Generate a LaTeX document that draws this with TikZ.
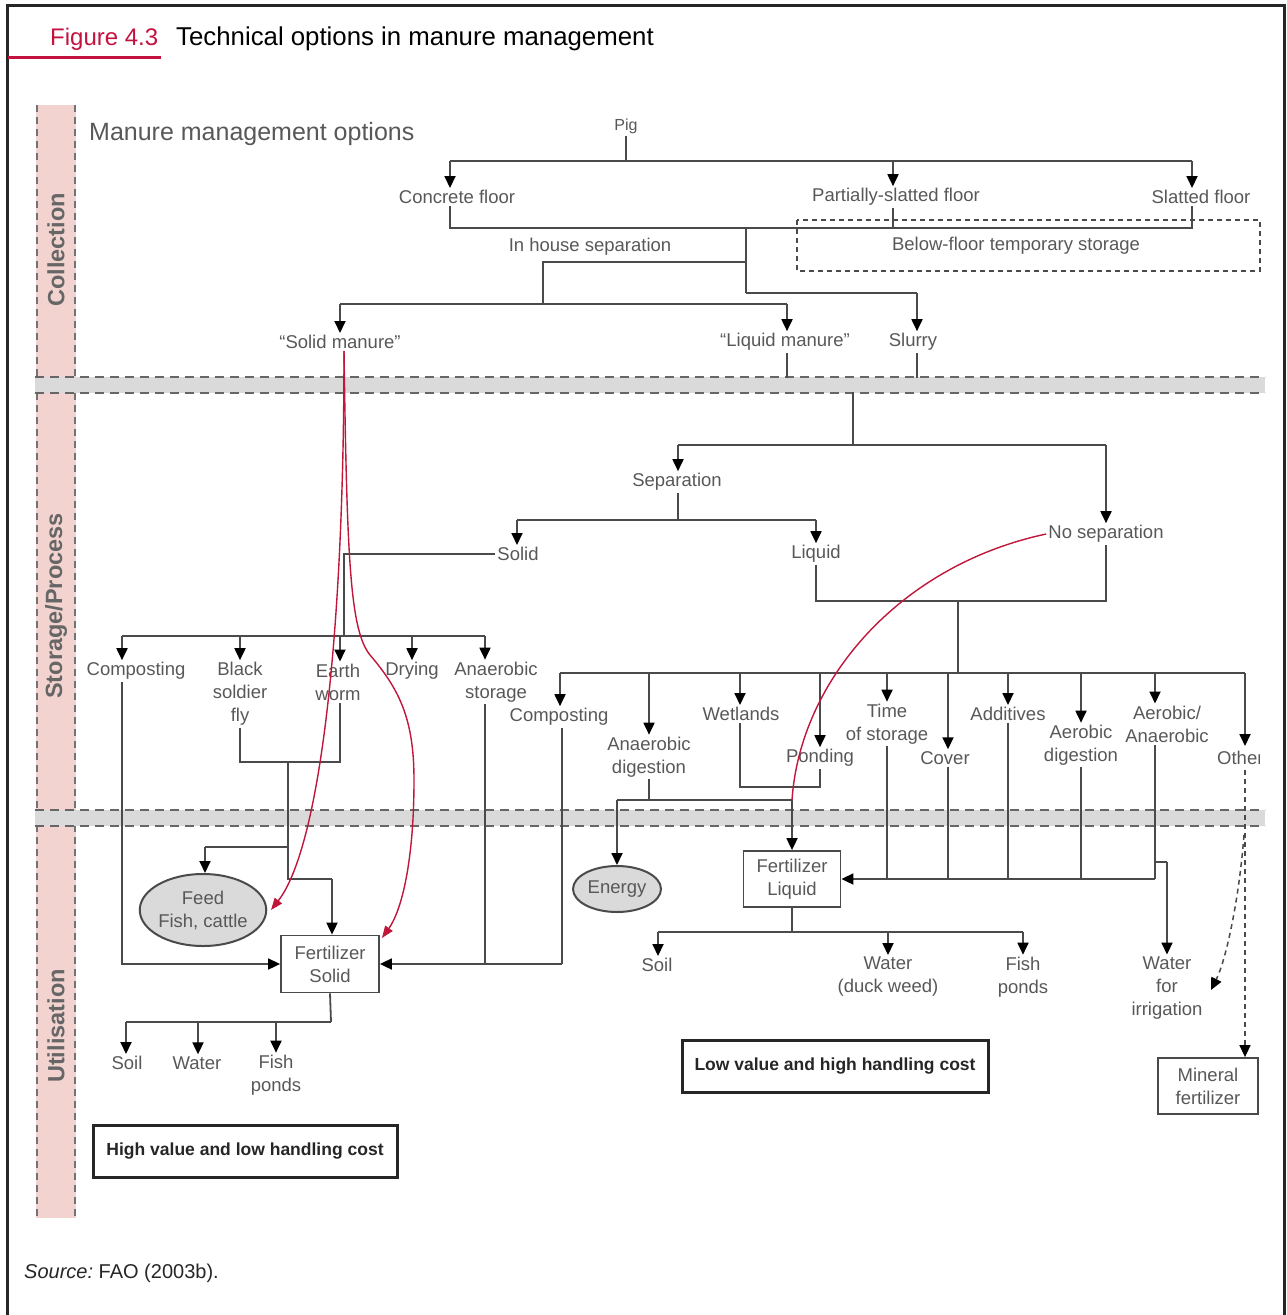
\documentclass[tikz,border=0pt]{standalone}
\usepackage{fontspec}
\setmainfont{Liberation Sans}
\usetikzlibrary{arrows.meta,shapes.geometric}
\definecolor{crim}{HTML}{C4123F}
\definecolor{txt}{HTML}{585858}
\definecolor{lnc}{HTML}{4A4A4A}
\definecolor{pinkb}{HTML}{F3D3CF}
\definecolor{bandg}{HTML}{DADADA}
\definecolor{redc}{HTML}{C0163A}
\begin{document}
\begin{tikzpicture}[x=1pt,y=-1pt,
 lbl/.style={font=\fontsize{18.5}{23}\selectfont, text=txt, align=center, inner sep=2pt},
 ln/.style={draw=lnc, line width=1.8pt},
 arr/.style={ln, -{Triangle[length=12pt,width=11pt,color=black]}},
 redarr/.style={draw=redc, line width=1.4pt, -{Triangle[length=12pt,width=9pt]}},
 fbox/.style={lbl, draw=lnc, line width=1.8pt, minimum width=98pt, minimum height=57pt},
 oval/.style={lbl, ellipse, draw=lnc, line width=2pt, fill=bandg, inner sep=0pt},
 bigbox/.style={draw=black!85, line width=3pt, font=\bfseries\fontsize{17.5}{21}\selectfont, text=black!85, minimum height=52pt, inner sep=0pt},
 band/.style={draw=black!60, line width=1.5pt, dash pattern=on 9pt off 6pt},
 sidelbl/.style={font=\bfseries\fontsize{23.5}{28}\selectfont, text=black!60, rotate=90, inner sep=0pt},
 dsh/.style={draw=lnc, line width=1.5pt, dash pattern=on 5pt off 4pt}
]
\useasboundingbox (0,0) rectangle (1287,1315);
% frame and title
\draw[line width=3pt, black!85] (7,1316) -- (7,5) -- (1284,5) -- (1284,1316);
\draw[line width=3pt, crim] (8,57) -- (161,57);
\node[anchor=base west, inner sep=0, font=\fontsize{24}{28}\selectfont, text=crim] (fignum) at (50,45) {Figure 4.3};
\node[anchor=base west, inner sep=0, font=\fontsize{25.8}{30}\selectfont] (title) at (176,45) {Technical options in manure management};
\node[anchor=base west, inner sep=0, font=\fontsize{20}{24}\selectfont, text=black!85] (src) at (24,1278) {\textit{Source:}~FAO (2003b).};
% side strip and bands
\fill[pinkb] (36,105) rectangle (76,1218);
\draw[line width=2pt, black!55, dash pattern=on 7pt off 5pt] (37,105) -- (37,1218) (75,105) -- (75,1218);
\fill[bandg] (35,377) rectangle (1265,393);
\fill[bandg] (35,810) rectangle (1265,826);
\draw[band] (35,377) -- (1265,377) (35,393) -- (1265,393) (35,810) -- (1265,810) (35,826) -- (1265,826);
\node[sidelbl] (lcol) at (56,250) {Collection};
\node[sidelbl] (lsto) at (56,606) {Storage/Process};
\node[sidelbl] (luti) at (56,1026) {Utilisation};
\node[anchor=base west, inner sep=0, font=\fontsize{25}{30}\selectfont, text=txt] (mmo) at (89,140) {Manure management options};

% ---------- labels ----------
\node[lbl, font=\fontsize{16}{19}\selectfont] (pig) at (626,126) {Pig};
\node[lbl] (cf) at (457,197) {Concrete floor};
\node[lbl] (psf) at (896,197) {Partially-slatted floor};
\node[lbl] (sf) at (1201,197) {Slatted floor};
\node[lbl] (ihs) at (590,247) {In house separation};
\node[lbl] (bfts) at (1016,246) {Below-floor temporary storage};
\node[lbl] (sm) at (340,342) {“Solid manure”};
\node[lbl] (lm) at (785,342) {“Liquid manure”};
\node[lbl] (slurry) at (913,342) {Slurry};
\node[lbl] (sep) at (677,482) {Separation};
\node[lbl] (nosep) at (1106,534) {No separation};
\node[lbl] (solid) at (518,554) {Solid};
\node[lbl] (liquid) at (816,554) {Liquid};
\node[lbl] (compA) at (136,671) {Composting};
\node[lbl] (bsf) at (240,694) {Black\\soldier\\fly};
\node[lbl] (ew) at (338,682) {Earth\\worm};
\node[lbl] (dry) at (412,671) {Drying};
\node[lbl] (ans) at (496,682) {Anaerobic\\storage};
\node[lbl] (compB) at (559,717) {Composting};
\node[lbl] (ad) at (649,757) {Anaerobic\\digestion};
\node[lbl] (wet) at (741,714) {Wetlands};
\node[lbl] (pond) at (820,758) {Ponding};
\node[lbl] (tos) at (887,724) {Time\\of storage};
\node[lbl] (cover) at (945,758) {Cover};
\node[lbl] (add) at (1008,714) {Additives};
\node[lbl] (aerd) at (1081,745) {Aerobic\\digestion};
\node[lbl] (aa) at (1167,724) {Aerobic/\\Anaerobic};
\begin{scope}
\clip (1100,600) rectangle (1259,800);
\node[lbl, anchor=west] (other) at (1215,758) {Other};
\end{scope}
\node[oval, minimum width=116pt, minimum height=72pt] (feed) at (203,910) {Feed\\Fish, cattle};
\node[fbox] (fs) at (330,964) {Fertilizer\\Solid};
\node[lbl] (soil1) at (127,1063) {Soil};
\node[lbl] (water1) at (197,1063) {Water};
\node[lbl] (fish1) at (276,1075) {Fish\\ponds};
\node[bigbox, minimum width=304pt] (hv) at (245,1151) {High value and low handling cost};
\node[oval, minimum width=88pt, minimum height=46pt] (energy) at (617,889) {Energy};
\node[fbox, minimum width=97pt, minimum height=56pt] (fl) at (792,879) {Fertilizer\\Liquid};
\node[lbl] (soil2) at (657,965) {Soil};
\node[lbl] (water2) at (888,977) {Water\\(duck weed)};
\node[lbl] (fish2) at (1023,977) {Fish\\ponds};
\node[lbl] (wfi) at (1167,988) {Water\\for\\irrigation};
\node[bigbox, minimum width=306pt] (lv) at (835,1066) {Low value and high handling cost};
\node[fbox, minimum width=100pt, minimum height=56pt] (mf) at (1208,1086) {Mineral\\fertilizer};

% ---------- collection ----------
\draw[ln] (pig.south) -- (626,161);
\draw[ln] (450,161) -- (1192,161);
\draw[arr] (450,161) -- (450,0|-cf.north);
\draw[arr] (893,161) -- (893,0|-psf.north);
\draw[arr] (1192,161) -- (1192,0|-sf.north);
\draw[dsh] (797,220) rectangle (1260,271);
\draw[ln] (450,0|-cf.south) -- (450,228) -- (1192,228) -- (1192,0|-sf.south);
\draw[ln] (893,0|-psf.south) -- (893,228);
\draw[ln] (746,228) -- (746,293);
\draw[ln] (746,262) -- (543,262) -- (543,304);
\draw[ln] (340,304) -- (787,304);
\draw[arr] (340,304) -- (340,0|-sm.north);
\draw[arr] (787,304) -- (787,0|-lm.north);
\draw[ln] (746,293) -- (917,293);
\draw[arr] (917,293) -- (917,0|-slurry.north);
\draw[ln] (787,0|-lm.south) -- (787,378);
\draw[ln] (917,0|-slurry.south) -- (917,378);

% ---------- storage / process ----------
\draw[ln] (853,392) -- (853,445);
\draw[ln] (678,445) -- (1106,445);
\draw[arr] (678,445) -- (678,0|-sep.north);
\draw[arr] (1106,445) -- (1106,0|-nosep.north);
\draw[ln] (678,0|-sep.south) -- (678,520);
\draw[ln] (517,520) -- (816,520);
\draw[arr] (517,520) -- (517,0|-solid.north);
\draw[arr] (816,520) -- (816,0|-liquid.north);
% solid branch
\draw[ln] (solid.west) -- (344,554) -- (344,636);
\draw[ln] (122,636) -- (485,636);
\draw[arr] (122,636) -- (122,0|-compA.north);
\draw[arr] (240,636) -- (240,0|-bsf.north);
\draw[arr] (340,636) -- (340,0|-ew.north);
\draw[arr] (412,636) -- (412,0|-dry.north);
\draw[arr] (485,636) -- (485,0|-ans.north);
% liquid branch
\draw[ln] (816,0|-liquid.south) -- (816,601) -- (1106,601) -- (1106,0|-nosep.south);
\draw[ln] (958,601) -- (958,673);
\draw[ln] (560,673) -- (1245,673);
\draw[arr] (560,673) -- (560,0|-compB.north);
\draw[arr] (649,673) -- (649,0|-ad.north);
\draw[arr] (740,673) -- (740,0|-wet.north);
\draw[arr] (820,673) -- (820,0|-pond.north);
\draw[arr] (887,673) -- (887,0|-tos.north);
\draw[arr] (948,673) -- (948,0|-cover.north);
\draw[arr] (1008,673) -- (1008,0|-add.north);
\draw[arr] (1081,673) -- (1081,0|-aerd.north);
\draw[arr] (1155,673) -- (1155,0|-aa.north);
\draw[arr] (1245,673) -- (1245,746);

% ---------- solid utilisation ----------
\draw[arr] (122,0|-compA.south) -- (122,964) -- (fs.west);
\draw[ln] (240,0|-bsf.south) -- (240,762) -- (340,762) -- (340,0|-ew.south);
\draw[ln] (288,762) -- (288,879) -- (332,879);
\draw[arr] (332,879) -- (332,0|-fs.north);
\draw[ln] (288,847) -- (205,847);
\draw[arr] (205,847) -- (205,0|-feed.north);
\draw[ln] (485,0|-ans.south) -- (485,964);
\draw[ln] (562,0|-compB.south) -- (562,964);
\draw[arr] (562,964) -- (fs.east);
\draw[ln] (fs.south) -- (331,1022);
\draw[ln] (126,1022) -- (331,1022);
\draw[arr] (126,1022) -- (126,0|-soil1.north);
\draw[arr] (198,1022) -- (198,0|-water1.north);
\draw[arr] (276,1022) -- (276,0|-fish1.north);

% ---------- liquid utilisation ----------
\draw[ln] (649,0|-ad.south) -- (649,800);
\draw[ln] (617,800) -- (792,800);
\draw[arr] (617,800) -- (energy.north);
\draw[ln] (740,0|-wet.south) -- (740,787) -- (820,787) -- (820,0|-pond.south);
\draw[ln] (887,0|-tos.south) -- (887,879);
\draw[ln] (948,0|-cover.south) -- (948,879);
\draw[ln] (1008,0|-add.south) -- (1008,879);
\draw[ln] (1081,0|-aerd.south) -- (1081,879);
\draw[ln] (1155,0|-aa.south) -- (1155,879);
\draw[arr] (1155,879) -- (fl.east);
\draw[ln] (1155,862) -- (1167,862);
\draw[arr] (1167,862) -- (1167,0|-wfi.north);
\draw[ln] (fl.south) -- (792,932);
\draw[ln] (658,932) -- (1023,932);
\draw[arr] (658,932) -- (658,0|-soil2.north);
\draw[arr] (888,932) -- (888,0|-water2.north);
\draw[arr] (1023,932) -- (1023,0|-fish2.north);
\draw[dsh, -{Triangle[length=12pt,width=11pt,color=black]}] (1245,770) -- (1245,0|-mf.north);
\draw[dsh, -{Triangle[length=12pt,width=11pt,color=black]}] (1244,835) .. controls (1239,900) and (1226,960) .. (1211,990);

% ---------- red curves ----------
\draw[redarr] (344,0|-sm.south) .. controls (344,650) and (318,850) .. (271,910);
\draw[redarr] (344,0|-sm.south) .. controls (347,560) and (350,630) .. (370,655)
   .. controls (400,690) and (414,720) .. (414,780)
   .. controls (414,860) and (402,910) .. (382,938);
\draw[draw=redc, line width=1.4pt] (nosep.west) .. controls (900,565) and (800,680) .. (792,800) -- (792,838);
\draw[arr] (792,800) -- (fl.north);
\end{tikzpicture}
\end{document}
